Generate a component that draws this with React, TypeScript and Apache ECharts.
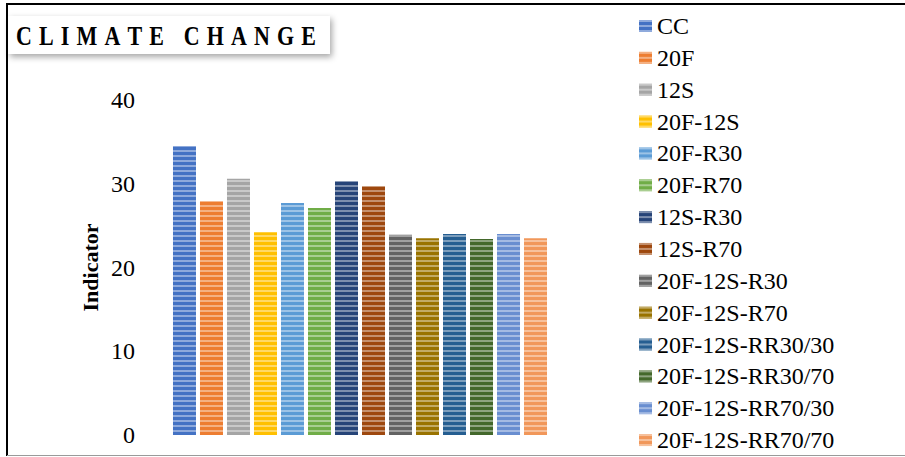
import React, { useEffect, useRef } from "react";
import * as echarts from "echarts";

// Scenario names, in legend order
const scenarios = [
  "CC",
  "20F",
  "12S",
  "20F-12S",
  "20F-R30",
  "20F-R70",
  "12S-R30",
  "12S-R70",
  "20F-12S-R30",
  "20F-12S-R70",
  "20F-12S-RR30/30",
  "20F-12S-RR30/70",
  "20F-12S-RR70/30",
  "20F-12S-RR70/70",
];

// Climate change indicator per scenario
const indicatorValues = [
  34.5, 27.9, 30.6, 24.2, 27.7, 27.1, 30.3, 29.7, 23.9, 23.5, 24.0, 23.4, 24.0, 23.5,
];

const barColors = [
  "#4472C4",
  "#ED7D31",
  "#A5A5A5",
  "#FFC000",
  "#5B9BD5",
  "#70AD47",
  "#264478",
  "#9E480E",
  "#636363",
  "#997300",
  "#255E91",
  "#43682B",
  "#698ED0",
  "#F1975A",
];

const yTicks = { min: 0, max: 40, interval: 10 };
const titleText = "CLIMATE CHANGE";
const axisName = "Indicator";

const SERIF = "Liberation Serif";

// Lay the title out letter by letter so it gets its wide tracking
function titleLetters(text: string, left: number, span: number, fontSize: number) {
  const canvas = document.createElement("canvas");
  const ctx = canvas.getContext("2d")!;
  ctx.font = `bold ${fontSize}px "${SERIF}"`;
  const widths = Array.from(text).map((ch) => ctx.measureText(ch).width);
  const total = widths.reduce((a, b) => a + b, 0);
  const gap = (span - total) / (text.length - 1);
  let x = left;
  return Array.from(text).map((ch, i) => {
    const el = {
      type: "text",
      x,
      y: 36,
      scaleY: 1.2,
      style: {
        text: ch,
        fontSize,
        fontWeight: "bold",
        fontFamily: SERIF,
        fill: "#000",
        verticalAlign: "middle",
      },
    };
    x += widths[i] + gap;
    return el;
  });
}

export default function App() {
  const ref = useRef<HTMLDivElement>(null);

  useEffect(() => {
    if (!ref.current) return;
    const chart = echarts.init(ref.current, undefined, { renderer: "svg" });

    const stripes = {
      symbol: "rect",
      symbolSize: 1,
      color: "rgba(255,255,255,0.4)",
      dashArrayX: [1, 0],
      dashArrayY: [2, 2.5],
      rotation: 0,
    };

    const series = scenarios.map((name, i) => ({
      name,
      type: "bar",
      data: [indicatorValues[i]],
      barWidth: 23,
      barGap: "17.4%",
      itemStyle: { color: barColors[i], decal: stripes },
    }));

    chart.setOption({
      animation: false,
      textStyle: { fontFamily: SERIF, color: "#000" },
      grid: { left: 145, right: 330, top: 100, bottom: 22 },
      xAxis: {
        type: "category",
        data: [""],
        axisLine: { show: false },
        axisTick: { show: false },
        axisLabel: { show: false },
      },
      yAxis: {
        type: "value",
        min: yTicks.min,
        max: yTicks.max,
        interval: yTicks.interval,
        splitLine: { show: false },
        axisLine: { show: false },
        axisTick: { show: false },
        axisLabel: {
          margin: 10,
          color: "#000",
          fontSize: 24,
          fontFamily: SERIF,
        },
        name: axisName,
        nameLocation: "middle",
        nameRotate: 90,
        nameGap: 44,
        nameTextStyle: {
          color: "#000",
          fontSize: 22,
          fontWeight: "bold",
          fontFamily: SERIF,
        },
      },
      legend: {
        orient: "vertical",
        left: 639,
        top: 14,
        height: 440,
        padding: 0,
        itemWidth: 13,
        itemHeight: 12,
        itemGap: 7.85,
        icon: "rect",
        data: scenarios,
        textStyle: {
          color: "#000",
          fontSize: 24,
          lineHeight: 24,
          fontFamily: SERIF,
          fontWeight: "normal",
          textBorderWidth: 0,
          textShadowBlur: 0,
        },
      },
      series,
      graphic: [
        {
          type: "line",
          shape: { x1: 6, y1: 4, x2: 905, y2: 4 },
          style: { stroke: "#000", lineWidth: 2 },
        },
        {
          type: "line",
          shape: { x1: 7, y1: 3, x2: 7, y2: 456 },
          style: { stroke: "#000", lineWidth: 2 },
        },
        {
          type: "line",
          shape: { x1: 7, y1: 455.5, x2: 905, y2: 455.5 },
          style: { stroke: "#9a9a9a", lineWidth: 1 },
        },
        {
          type: "rect",
          shape: { x: 8, y: 16, width: 322, height: 38 },
          style: {
            fill: "#fff",
            shadowBlur: 6,
            shadowColor: "rgba(0,0,0,0.35)",
            shadowOffsetX: 2,
            shadowOffsetY: 3,
          },
        },
        ...titleLetters(titleText, 16, 300, 22),
      ],
    });

    return () => chart.dispose();
  }, []);

  return (
    <div
      ref={ref}
      style={{ position: "fixed", left: 0, top: 0, width: 905, height: 457, background: "#fff" }}
    />
  );
}
